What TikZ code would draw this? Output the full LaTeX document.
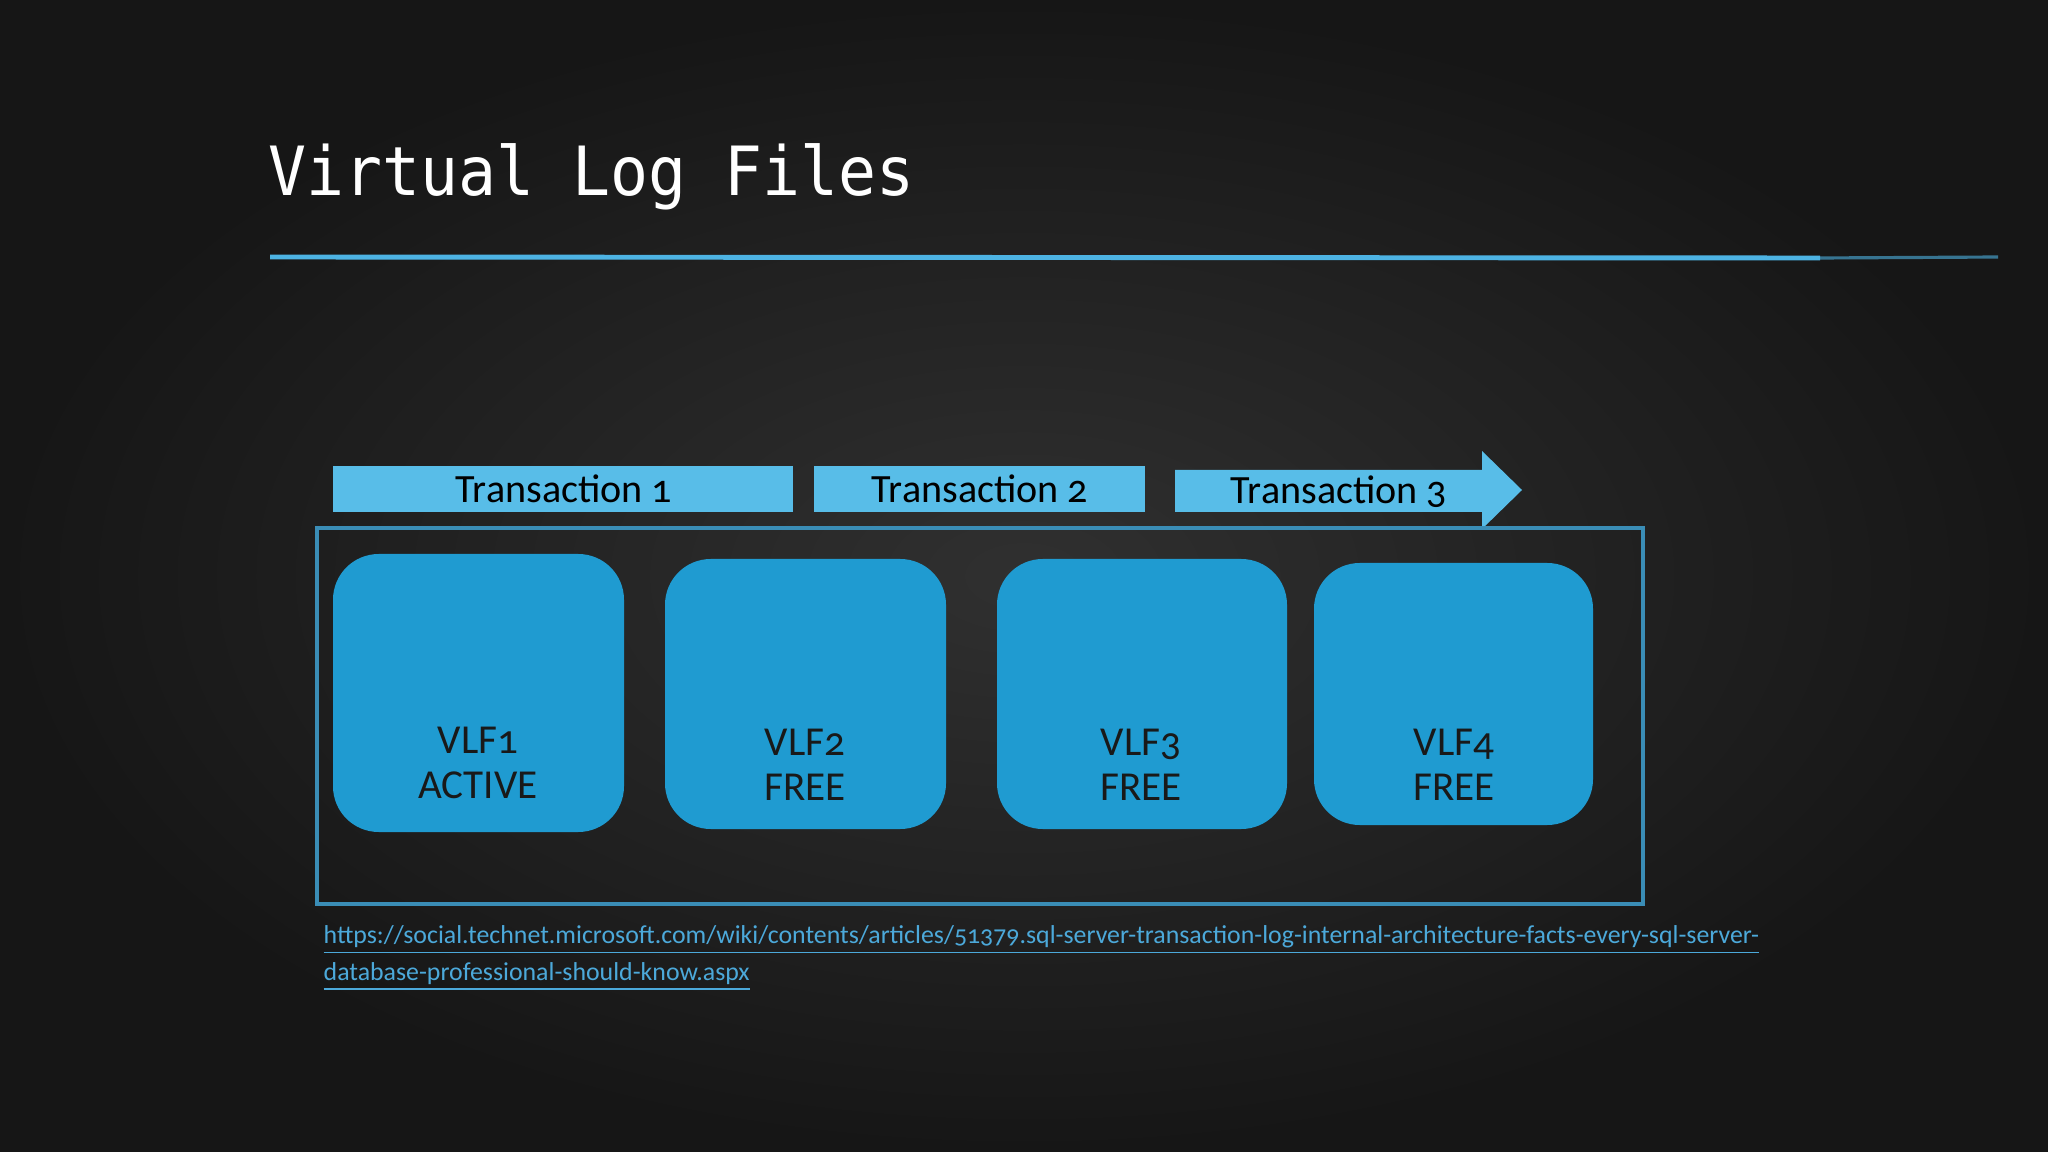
\documentclass[tikz,border=0pt]{standalone}
\usepackage{fontspec}
\setmainfont{Carlito}[Numbers=OldStyle]
\newfontfamily\titlefont{DejaVu Sans Mono}[FakeStretch=0.93]
\usepackage{xcolor}
\usepackage{tikz}

\definecolor{board}{HTML}{303030}
\definecolor{boardedge}{HTML}{161616}
\definecolor{rulebl}{HTML}{4DB3E3}
\definecolor{barbl}{HTML}{58BDE8}
\definecolor{vlfbl}{HTML}{1F9BD1}
\definecolor{framebl}{HTML}{3A8DB6}
\definecolor{linkbl}{HTML}{4CA9DA}

\begin{document}
\begin{tikzpicture}[x=0.01cm, y=-0.01cm,
  tlabel/.style={anchor=base, font=\fontsize{11.4}{13}\selectfont, text=black},
  vlabel/.style={anchor=base, font=\fontsize{11.7}{13}\selectfont, text=black!90},
  link/.style={anchor=base west, inner sep=0pt, font=\fontsize{7.35}{8.5}\selectfont, text=linkbl}]

\useasboundingbox (0,0) rectangle (2048,1152);
\shade[inner color=board, outer color=boardedge] (0,0) rectangle (2048,1152);

% title
\node[anchor=base west, inner sep=0pt, text=white, font=\titlefont\fontsize{19.3}{22}\selectfont]
  (title) at (268,196) {Virtual Log Files};
\draw[rulebl, line width=1.4pt] (270,257) -- (1820,258);
\draw[rulebl, line width=0.9pt, opacity=0.6] (1820,258) -- (1998,257);

% transactions
\fill[barbl] (333,466) rectangle (793,512);
\fill[barbl] (814,466) rectangle (1145,512);
\fill[barbl] (1175,470) -- (1482,470) -- (1482,451) -- (1522,490)
  -- (1482,529) -- (1482,512) -- (1175,512) -- cycle;
\node[tlabel] (t1) at (564,503) {Transaction 1};
\node[tlabel] (t2) at (980,503) {Transaction 2};
\node[tlabel] (t3) at (1339,504) {Transaction 3};

% log file frame
\draw[framebl, line width=1.4pt] (317,528) rectangle (1643,904);

% VLFs
\fill[vlfbl, rounded corners=13pt] (333,554) rectangle (624,832);
\fill[vlfbl, rounded corners=13pt] (665,559) rectangle (946,829);
\fill[vlfbl, rounded corners=13pt] (997,559) rectangle (1287,829);
\fill[vlfbl, rounded corners=13pt] (1314,563) rectangle (1593,825);

\node[vlabel] (v1) at (478,753) {VLF1};
\node[vlabel] (s1) at (478,798) {ACTIVE};
\node[vlabel] (v2) at (805,755) {VLF2};
\node[vlabel] (s2) at (805,800) {FREE};
\node[vlabel] (v3) at (1141,755) {VLF3};
\node[vlabel] (s3) at (1141,800) {FREE};
\node[vlabel] (v4) at (1454,755) {VLF4};
\node[vlabel] (s4) at (1454,800) {FREE};

% source
\node[link] (url1) at (323,943) {\underline{https://social.technet.microsoft.com/wiki/contents/articles/51379.sql-server-transaction-log-internal-architecture-facts-every-sql-server-}};
\node[link] (url2) at (323,980) {\underline{database-professional-should-know.aspx}};

\end{tikzpicture}
\end{document}
